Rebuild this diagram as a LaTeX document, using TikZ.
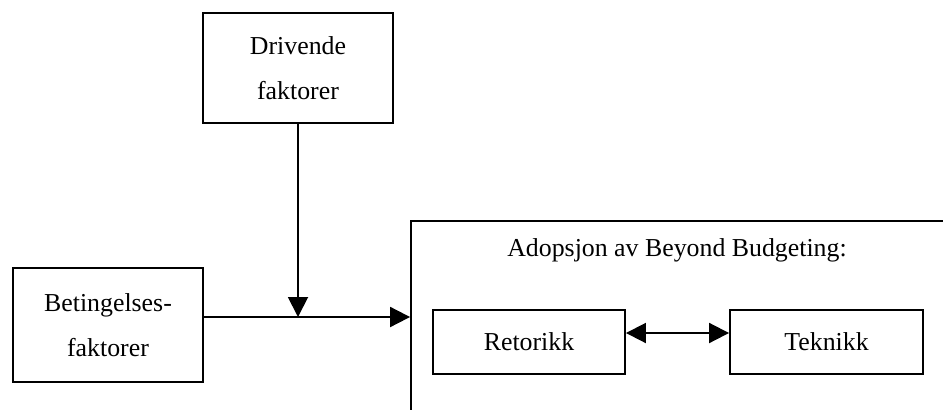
\documentclass[tikz,border=0pt]{standalone}
\usepackage{fontspec}
\setmainfont{Liberation Serif}
\usetikzlibrary{arrows.meta}

\begin{document}
\begin{tikzpicture}[x=0.02cm,y=-0.02cm,
  font=\fontsize{14.7}{25.6}\selectfont,
  box/.style={draw,line width=1.1pt,align=center,inner sep=0pt},
  flow/.style={line width=1.1pt,-{Triangle[length=0.4cm,width=0.4cm]}},
  twoway/.style={line width=1.1pt,{Triangle[length=0.4cm,width=0.4cm]}-{Triangle[length=0.4cm,width=0.4cm]}}]
\useasboundingbox (0,0) rectangle (943,409);
\clip (0,0) rectangle (943,409);
% factor boxes
\node[box,minimum width=3.8cm,minimum height=2.2cm] (drive) at (298,68) {Drivende\\faktorer};
\node[box,minimum width=3.8cm,minimum height=2.28cm] (cond) at (108,325) {Betingelses-\\faktorer};
% adoption frame, runs off the page
\node[box,minimum width=10.98cm,minimum height=4.18cm] (adopt) at (685.5,325.5) {};
\node (title) at (677,250) {Adopsjon av Beyond Budgeting:};
\node[box,minimum width=3.84cm,minimum height=1.28cm] (rhet) at (529,342) {Retorikk};
\node[box,minimum width=3.86cm,minimum height=1.28cm] (tech) at (826.5,342) {Teknikk};
\coordinate (join) at (298,317);
\draw[flow] (drive.south) -- (join);
\draw[flow] (cond.east |- join) -- (adopt.west |- join);
\draw[twoway] ([yshift=0.18cm]rhet.east) -- ([yshift=0.18cm]tech.west);
\end{tikzpicture}
\end{document}
